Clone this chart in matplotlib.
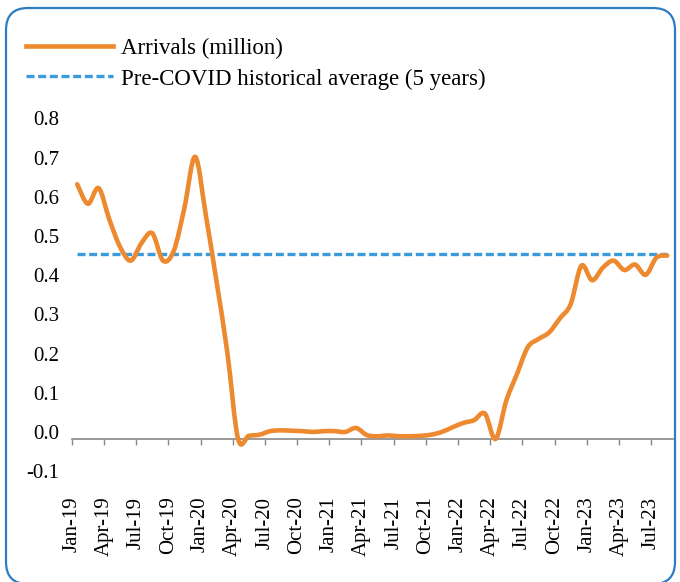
import numpy as np
import matplotlib
matplotlib.use("Agg")
import matplotlib.pyplot as plt
from matplotlib.path import Path
from matplotlib.patches import PathPatch, FancyBboxPatch
from matplotlib.lines import Line2D
import matplotlib.transforms as mtransforms

# monthly arrivals (million), Jan-19 .. Aug-23
months = ['Jan-19', 'Feb-19', 'Mar-19', 'Apr-19', 'May-19', 'Jun-19', 'Jul-19', 'Aug-19',
          'Sep-19', 'Oct-19', 'Nov-19', 'Dec-19',
          'Jan-20', 'Feb-20', 'Mar-20', 'Apr-20', 'May-20', 'Jun-20', 'Jul-20', 'Aug-20',
          'Sep-20', 'Oct-20', 'Nov-20', 'Dec-20',
          'Jan-21', 'Feb-21', 'Mar-21', 'Apr-21', 'May-21', 'Jun-21', 'Jul-21', 'Aug-21',
          'Sep-21', 'Oct-21', 'Nov-21', 'Dec-21',
          'Jan-22', 'Feb-22', 'Mar-22', 'Apr-22', 'May-22', 'Jun-22', 'Jul-22', 'Aug-22',
          'Sep-22', 'Oct-22', 'Nov-22', 'Dec-22',
          'Jan-23', 'Feb-23', 'Mar-23', 'Apr-23', 'May-23', 'Jun-23', 'Jul-23', 'Aug-23']
arrivals = [0.65, 0.60, 0.64, 0.56, 0.49, 0.455, 0.50, 0.525, 0.455, 0.48, 0.59, 0.72,
            0.57, 0.40, 0.22, 0.0, 0.008, 0.011, 0.02, 0.022, 0.021, 0.02, 0.018, 0.02,
            0.02, 0.018, 0.028, 0.01, 0.007, 0.009, 0.007, 0.007, 0.008, 0.011, 0.018, 0.03,
            0.041, 0.048, 0.065, 0.0, 0.098, 0.166, 0.234, 0.255, 0.272, 0.308, 0.344, 0.442,
            0.405, 0.437, 0.455, 0.431, 0.445, 0.419, 0.463, 0.468]
precovid_avg = 0.473

yticks = [-0.1, 0.0, 0.1, 0.2, 0.3, 0.4, 0.5, 0.6, 0.7, 0.8]

orange = '#ED892F'
blue = '#3A9BDC'
gray = '#888888'

plt.rcParams['font.family'] = ['Liberation Serif', 'DejaVu Serif']

fig = plt.figure(figsize=(6.8, 5.82), dpi=100)
ax = fig.add_axes([0.1056, 0.1784, 0.8835, 0.6061])

x = np.arange(len(arrivals)) + 0.5
y = np.array(arrivals)

# excel-like smoothed line (bezier through the points)
pts = np.column_stack([x, y])
ext = np.vstack([pts[0], pts, pts[-1]])
verts = [tuple(pts[0])]
codes = [Path.MOVETO]
for i in range(len(pts) - 1):
    p0, p1, p2, p3 = ext[i], ext[i + 1], ext[i + 2], ext[i + 3]
    c1 = p1 + (p2 - p0) / 6.0
    c2 = p2 - (p3 - p1) / 6.0
    verts += [tuple(c1), tuple(c2), tuple(p2)]
    codes += [Path.CURVE4] * 3
ax.add_patch(PathPatch(Path(verts, codes), facecolor='none', edgecolor=orange,
                       lw=3.3, capstyle='round', joinstyle='round', zorder=3))

avg_line, = ax.plot([x[0], x[-1]], [precovid_avg, precovid_avg], color=blue, lw=2.4,
                    zorder=2)
avg_line.set_dashes((2.4, 1.1))

ax.set_xlim(0, len(arrivals))
ax.set_ylim(-0.1, 0.8)

for s in ['top', 'right', 'left']:
    ax.spines[s].set_visible(False)
ax.spines['bottom'].set_position(('data', 0))
ax.spines['bottom'].set_color(gray)
ax.spines['bottom'].set_linewidth(1.2)

ax.set_xticks(np.arange(0, len(arrivals), 3))
ax.set_xticklabels(months[::3], rotation=90, fontsize=15)
ax.tick_params(axis='x', direction='out', length=4.5, width=1.0, color=gray, pad=37)

ax.set_yticks(yticks)
ax.set_yticklabels(['%.1f' % v for v in yticks], fontsize=15)
ax.tick_params(axis='y', length=0, pad=9)
shift = mtransforms.ScaledTranslation(0, 5 / 72., fig.dpi_scale_trans)
for lbl in ax.get_yticklabels():
    lbl.set_transform(lbl.get_transform() + shift)

# legend
h1 = Line2D([], [], color=orange, lw=3.3)
h2 = Line2D([], [], color=blue, lw=2.4, dashes=(2.4, 1.1))
fig.legend([h1, h2], ['Arrivals (million)', 'Pre-COVID historical average (5 years)'],
           loc='upper left', bbox_to_anchor=(26 / 680, 1 - 38 / 582), frameon=False,
           fontsize=16.5, handlelength=3.8, handletextpad=0.36, borderpad=0,
           borderaxespad=0, labelspacing=0.4)

# rounded border
box = FancyBboxPatch((0.06, -0.02), 6.69, 5.76, boxstyle='round,pad=0,rounding_size=0.22',
                     transform=fig.dpi_scale_trans, facecolor='none', edgecolor='#2C7CC1',
                     lw=1.6, clip_on=False)
fig.patches.append(box)

fig.savefig('out.png', dpi=100)
